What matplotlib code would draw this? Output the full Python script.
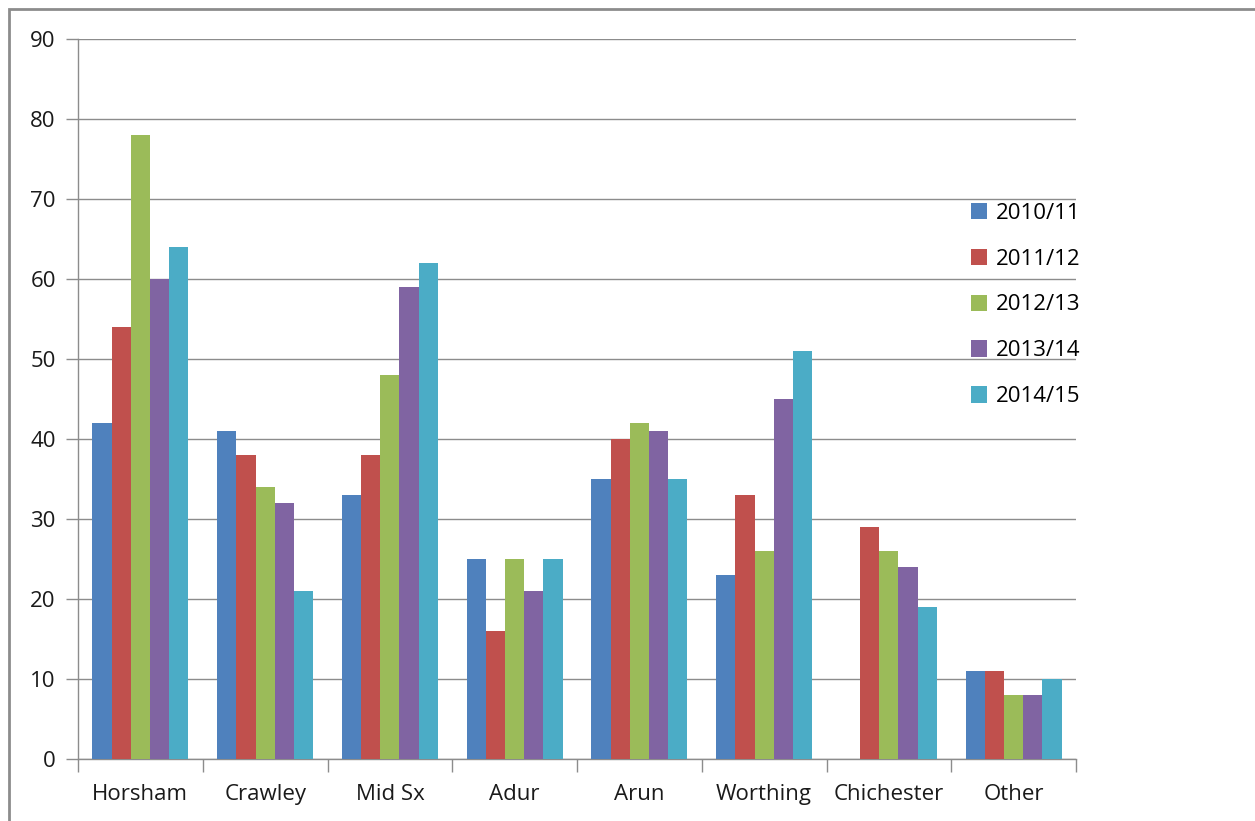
import matplotlib.pyplot as plt
import numpy as np
from matplotlib.patches import Rectangle

plt.rcParams['font.family'] = ['Open Sans', 'DejaVu Sans']

# data
districts = ['Horsham', 'Crawley', 'Mid Sx', 'Adur', 'Arun', 'Worthing', 'Chichester', 'Other']
years = ['2010/11', '2011/12', '2012/13', '2013/14', '2014/15']
v2010 = [42, 41, 33, 25, 35, 23, 0, 11]
v2011 = [54, 38, 38, 16, 40, 33, 29, 11]
v2012 = [78, 34, 48, 25, 42, 26, 26, 8]
v2013 = [60, 32, 59, 21, 41, 45, 24, 8]
v2014 = [64, 21, 62, 25, 35, 51, 19, 10]
series = [v2010, v2011, v2012, v2013, v2014]
colors = ['#4F81BD', '#C0504D', '#9BBB59', '#8064A2', '#4BACC6']

fig = plt.figure(figsize=(12.55, 8.21), dpi=100)
ax = fig.add_axes([78 / 1255, 62 / 821, 998 / 1255, 720 / 821])

# outer frame (left and top edges visible)
fig.patches.append(Rectangle((9 / 1255, -0.1), 1.2, (821 - 9) / 821 + 0.1,
                             transform=fig.transFigure, fill=False,
                             edgecolor='#8c8c8c', linewidth=2))

x = np.arange(len(districts))
w = 0.154
for i, (vals, c, lab) in enumerate(zip(series, colors, years)):
    ax.bar(x + (i - 2) * w, vals, width=w, color=c, label=lab, zorder=3)

ax.set_xlim(-0.5, len(districts) - 0.5)
ax.set_ylim(0, 90)
ax.set_yticks(range(0, 91, 10))
ax.yaxis.grid(True, color='#8c8c8c', linewidth=1)
ax.set_axisbelow(True)

ax.set_xticks(x)
ax.set_xticklabels(districts, fontsize=16, color='#1a1a1a')
ax.tick_params(axis='x', length=0, pad=18)
ax.set_xticks(np.arange(-0.5, len(districts), 1), minor=True)
ax.tick_params(axis='x', which='minor', length=9, color='#8c8c8c', width=1)
ax.tick_params(axis='y', labelsize=16, length=9, color='#8c8c8c', width=1,
               labelcolor='#1a1a1a', pad=7)

for s in ['top', 'right']:
    ax.spines[s].set_visible(False)
for s in ['left', 'bottom']:
    ax.spines[s].set_color('#8c8c8c')
    ax.spines[s].set_linewidth(1)

leg = ax.legend(loc='upper left', bbox_to_anchor=(0.8855, 0.785), frameon=False,
                fontsize=16, handlelength=0.75, handleheight=0.75,
                handletextpad=0.4, labelspacing=1.12, borderaxespad=0)

fig.savefig('out.png', dpi=100)
